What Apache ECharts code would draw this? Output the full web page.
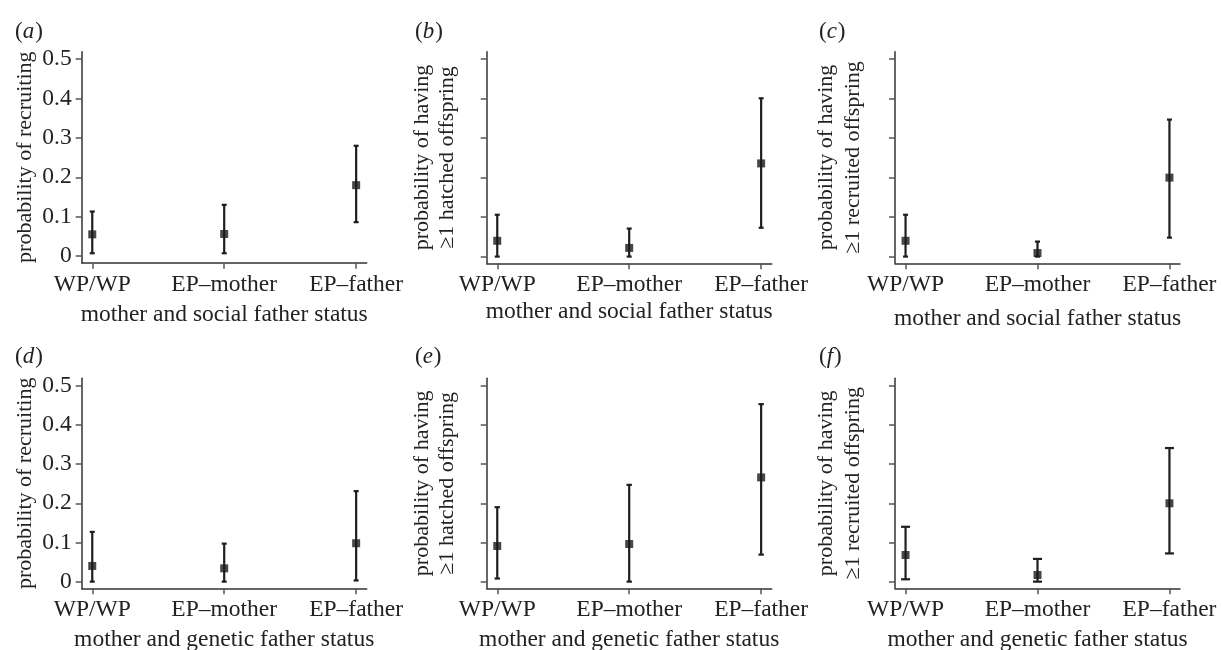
<!DOCTYPE html>
<html>
<head>
<meta charset="utf-8">
<script src="https://cdn.jsdelivr.net/npm/echarts@6/dist/echarts.min.js"></script>
<style>
  html, body { margin: 0; padding: 0; background: #fff; }
  #main { width: 1222px; height: 650px; }
</style>
</head>
<body>
<div id="main"></div>
<script>
// categories on the x axis of every panel
const categories = ['WP/WP', 'EP–mother', 'EP–father'];
const yTicks = [0, 0.1, 0.2, 0.3, 0.4, 0.5];

// (a) probability of recruiting, social father
const estA = [0.055, 0.056, 0.180];
const lowA = [0.007, 0.007, 0.086];
const highA = [0.113, 0.130, 0.280];
// (b) >=1 hatched offspring, social father
const estB = [0.040, 0.022, 0.236];
const lowB = [0.000, 0.000, 0.073];
const highB = [0.106, 0.071, 0.401];
// (c) >=1 recruited offspring, social father
const estC = [0.040, 0.009, 0.200];
const lowC = [0.000, 0.000, 0.048];
const highC = [0.106, 0.038, 0.347];
// (d) probability of recruiting, genetic father
const estD = [0.040, 0.034, 0.098];
const lowD = [0.000, 0.000, 0.003];
const highD = [0.127, 0.097, 0.231];
// (e) >=1 hatched offspring, genetic father
const estE = [0.091, 0.096, 0.266];
const lowE = [0.008, 0.000, 0.069];
const highE = [0.190, 0.247, 0.453];
// (f) >=1 recruited offspring, genetic father
const estF = [0.068, 0.017, 0.200];
const lowF = [0.006, 0.000, 0.072];
const highF = [0.140, 0.058, 0.341];

const FONT = 'Liberation Serif';
const INK = '#222';

const panels = [
  { tag: 'a', est: estA, low: lowA, high: highA, left: 81.7, top: 51.7, h: 211,
    yName: 'probability of recruiting', yGap: 44, yLH: 25, labels: true,
    xName: 'mother and social father status', xGap: 40, cap: 2.5, tx: 10, ty: 15 },
  { tag: 'b', est: estB, low: lowB, high: highB, left: 486.7, top: 51.7, h: 211.6,
    yName: 'probability of having\n≥1 hatched offspring', yGap: 27, yLH: 25, labels: false,
    xName: 'mother and social father status', xGap: 37, cap: 2.5, tx: 410, ty: 15 },
  { tag: 'c', est: estC, low: lowC, high: highC, left: 895, top: 51.7, h: 211.6,
    yName: 'probability of having\n≥1 recruited offspring', yGap: 28, yLH: 27, labels: false,
    xName: 'mother and social father status', xGap: 44, cap: 2.5, tx: 814, ty: 15 },
  { tag: 'd', est: estD, low: lowD, high: highD, left: 81.7, top: 378.3, h: 210,
    yName: 'probability of recruiting', yGap: 44, yLH: 25, labels: true,
    xName: 'mother and genetic father status', xGap: 40, cap: 2.5, tx: 10, ty: 340 },
  { tag: 'e', est: estE, low: lowE, high: highE, left: 486.7, top: 378.3, h: 210,
    yName: 'probability of having\n≥1 hatched offspring', yGap: 27, yLH: 25, labels: false,
    xName: 'mother and genetic father status', xGap: 40, cap: 2.7, tx: 410, ty: 340 },
  { tag: 'f', est: estF, low: lowF, high: highF, left: 895, top: 378.3, h: 210,
    yName: 'probability of having\n≥1 recruited offspring', yGap: 28, yLH: 27, labels: false,
    xName: 'mother and genetic father status', xGap: 40, cap: 4.5, tx: 814, ty: 340 }
];

const grid = [], xAxis = [], yAxis = [], series = [], title = [];

panels.forEach((p, i) => {
  grid.push({ left: p.left, top: p.top, width: 285, height: p.h, outerBoundsMode: 'none', containLabel: false });
  xAxis.push({
    gridIndex: i, type: 'value', min: -0.08, max: 2.08,
    axisLine: { show: true, onZero: false, lineStyle: { color: '#333', width: 1.5 } },
    axisTick: { show: true, customValues: [0, 1, 2], length: 6, lineStyle: { color: '#555', width: 1.5 } },
    axisLabel: {
      customValues: [0, 1, 2], margin: 10,
      formatter: v => categories[Math.round(v)],
      fontFamily: FONT, fontSize: 23.5, color: INK
    },
    splitLine: { show: false },
    name: p.xName, nameLocation: 'middle', nameGap: p.xGap,
    nameTextStyle: { fontFamily: FONT, fontSize: 23.5, color: INK }
  });
  yAxis.push({
    gridIndex: i, type: 'value', min: -0.017, max: 0.519,
    axisLine: { show: true, onZero: false, lineStyle: { color: '#333', width: 1.5 } },
    axisTick: { show: true, customValues: yTicks, length: 6, lineStyle: { color: '#555', width: 1.5 } },
    axisLabel: {
      show: p.labels, customValues: yTicks, margin: 10,
      formatter: v => (v === 0 ? '0' : v.toFixed(1)),
      fontFamily: FONT, fontSize: 23.5, color: INK
    },
    splitLine: { show: false },
    name: p.yName, nameLocation: 'middle', nameGap: p.yGap,
    nameTextStyle: { fontFamily: FONT, fontSize: 22, color: INK, lineHeight: p.yLH }
  });
  series.push({
    type: 'custom', xAxisIndex: i, yAxisIndex: i, clip: false, z: 2,
    data: categories.map((c, k) => [k, p.low[k], p.high[k]]),
    encode: { x: 0, y: [1, 2] },
    renderItem: (params, api) => {
      const lo = api.coord([api.value(0), api.value(1)]);
      const hi = api.coord([api.value(0), api.value(2)]);
      const w = p.cap;
      const st = { stroke: '#1e1e1e', lineWidth: 2.2 };
      return {
        type: 'group',
        children: [
          { type: 'line', shape: { x1: lo[0], y1: lo[1], x2: hi[0], y2: hi[1] }, style: st },
          { type: 'line', shape: { x1: lo[0] - w, y1: lo[1], x2: lo[0] + w, y2: lo[1] }, style: st },
          { type: 'line', shape: { x1: hi[0] - w, y1: hi[1], x2: hi[0] + w, y2: hi[1] }, style: st }
        ]
      };
    }
  });
  series.push({
    type: 'scatter', xAxisIndex: i, yAxisIndex: i, z: 3,
    symbol: 'rect', symbolSize: 8,
    itemStyle: { color: '#1a1a1a' },
    data: categories.map((c, k) => [k, p.est[k]])
  });
  title.push({
    left: p.tx, top: p.ty,
    text: '{p|(}{i|' + p.tag + '}{p|)}',
    textStyle: {
      fontWeight: 'normal',
      rich: {
        p: { fontFamily: FONT, fontSize: 23, fontWeight: 'normal', color: INK },
        i: { fontFamily: FONT, fontSize: 23, fontWeight: 'normal', color: INK, fontStyle: 'italic', padding: [0, 1, 0, 0] }
      }
    }
  });
});

const chart = echarts.init(document.getElementById('main'), null, { renderer: 'canvas' });
chart.setOption({
  backgroundColor: '#fff',
  animation: false,
  title: title,
  grid: grid,
  xAxis: xAxis,
  yAxis: yAxis,
  series: series
});
</script>
</body>
</html>
